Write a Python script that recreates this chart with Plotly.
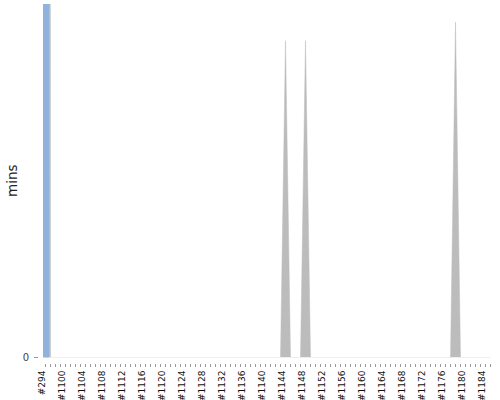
import plotly.graph_objects as go

# Build categories (x axis)
build_numbers = [294] + list(range(1097, 1186))
builds = [f"#{n}" for n in build_numbers]

# Durations in minutes (only non-zero builds listed)
success_mins = {"#294": 20.0}
other_mins = {"#294": 20.0, "#1144": 0.448, "#1148": 0.448, "#1178": 0.474}

success = [success_mins.get(b, 0.0) for b in builds]
other = [other_mins.get(b, 0.0) for b in builds]

# Tick labels: every 4th build
tick_text = [b if i % 4 == 0 else "" for i, b in enumerate(builds)]

BLUE = "rgb(143,179,220)"
GREY = "rgb(188,188,188)"

fig = go.Figure()
fig.add_trace(go.Scatter(
    x=builds, y=other, mode="lines", fill="tozeroy",
    line=dict(color=GREY, width=0.5), fillcolor=GREY,
    hoverinfo="skip", showlegend=False, zorder=0,
))
fig.add_trace(go.Bar(
    x=builds, y=success, marker=dict(color=BLUE, line=dict(width=0)),
    width=1.4, showlegend=False, zorder=1,
))

W, H = 500, 400
ml, mr, mt, mb = 38, 7, 4, 37
pw = W - ml - mr
ph = H - mt - mb

fig.update_layout(
    width=W, height=H,
    margin=dict(l=ml, r=mr, t=mt, b=mb, pad=0, autoexpand=False),
    paper_bgcolor="white", plot_bgcolor="white",
    bargap=0,
    font=dict(family="DejaVu Sans", color="#333"),
    xaxis=dict(
        type="category", domain=[5 / pw, 1], anchor="free", position=0,
        range=[-0.5, len(builds) - 0.5], automargin=False,
        tickmode="array", tickvals=builds, ticktext=tick_text,
        tickangle=-90, ticks="outside", ticklen=3, tickcolor="#999",
        showline=True, linecolor="#999", linewidth=1,
        showgrid=False, zeroline=False,
        tickfont=dict(size=9, family="DejaVu Sans", color="#111"),
        ticklabelshift=-3,
    ),
    yaxis=dict(
        domain=[5.5 / ph, 1], anchor="free", position=0,
        range=[0, 0.5], automargin=False,
        tickmode="array", tickvals=[0], ticktext=["0"],
        ticks="outside", ticklen=4, tickcolor="#999",
        ticklabelstandoff=3,
        showline=True, linecolor="#bbb", linewidth=1,
        showgrid=False, zeroline=False,
        tickfont=dict(size=10, family="DejaVu Sans", color="#444"),
        title=dict(text="mins", standoff=0,
                   font=dict(size=13.5, family="DejaVu Sans", color="#222")),
    ),
)

fig.write_html(
    "out.html",
    config={"displayModeBar": False},
    post_script="document.body.style.margin='0';document.body.style.overflow='hidden';",
)
